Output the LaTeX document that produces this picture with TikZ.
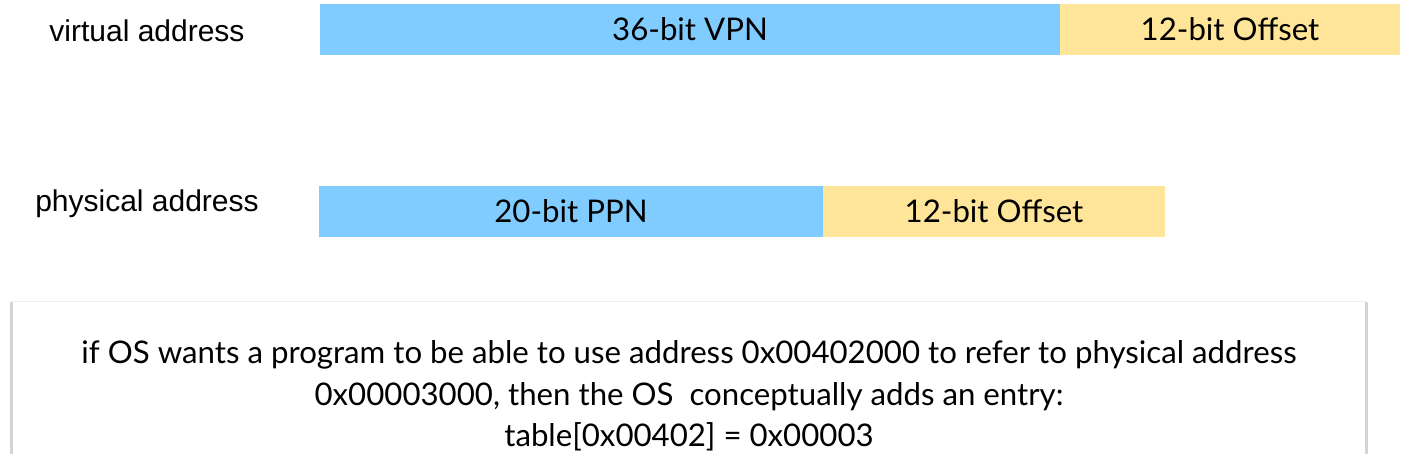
\documentclass[tikz,border=0pt]{standalone}
\usepackage{fontspec}
\setmainfont{Lato}
\newfontfamily\lblfont{Liberation Sans}
\definecolor{vblue}{RGB}{128,204,255}
\definecolor{vyellow}{RGB}{255,229,153}
\definecolor{edgegray}{RGB}{212,212,212}
\definecolor{topgray}{RGB}{240,240,240}
\begin{document}
\begin{tikzpicture}[x=1pt,y=-1pt,
  field/.style={inner sep=0pt, outer sep=0pt, anchor=north west, minimum height=51pt,
    font=\fontsize{31.2}{36}\selectfont, text=black},
  bluefield/.style={field, fill=vblue},
  yellowfield/.style={field, fill=vyellow},
  addrlabel/.style={inner sep=0pt, font=\lblfont\fontsize{30}{34}\selectfont, text=black},
  notetext/.style={inner sep=0pt, align=center, font=\fontsize{31.2}{41.5}\selectfont, text=black}]
\useasboundingbox (0,0) rectangle (1423,454);
\fill[white] (0,0) rectangle (1423,454);
% address labels
\node[addrlabel] (vlabel) at (147,31) {virtual address};
\node[addrlabel] (plabel) at (147,204) {physical address};
% virtual address fields
\node[bluefield, minimum width=740pt] (vpn) at (320,4) {36-bit VPN};
\node[yellowfield, minimum width=340pt] (voff) at (1060,4) {12-bit Offset};
% physical address fields
\node[bluefield, minimum width=504pt] (ppn) at (319,186) {20-bit PPN};
\node[yellowfield, minimum width=342pt] (poff) at (823,186) {12-bit Offset};
% note box
\fill[white] (11,301) rectangle (1367,460);
\draw[topgray, line width=1pt] (12,301.5) -- (1366,301.5);
\draw[edgegray, line width=2.5pt] (11.5,302) -- (11.5,454);
\draw[edgegray, line width=2.5pt] (1366.5,302) -- (1366.5,454);
\node[notetext] (note) at (689,396) {if OS wants a program to be able to use address 0x00402000 to refer to physical address\\
0x00003000, then the OS\ \ conceptually adds an entry:\\
table[0x00402] = 0x00003};
\end{tikzpicture}
\end{document}
